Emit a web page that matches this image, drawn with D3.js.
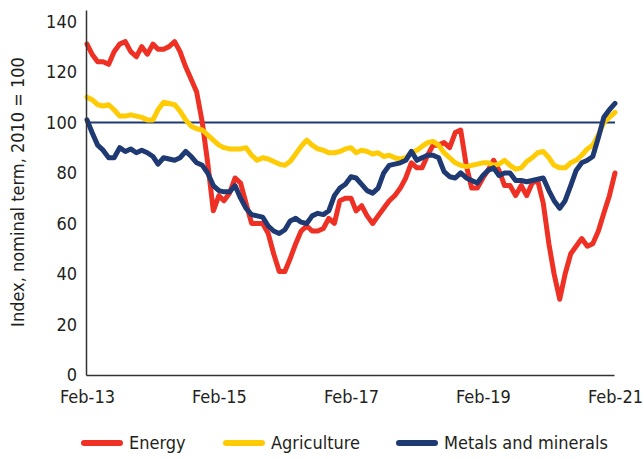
<!DOCTYPE html>
<html>
<head>
<meta charset="utf-8">
<script src="https://cdn.jsdelivr.net/npm/d3@7"></script>
<style>
  body { margin: 0; background: #fff; }
  text { font-family: "DejaVu Sans Condensed", "Liberation Sans Narrow", sans-serif; fill: #231f20; }
</style>
</head>
<body>
<div id="viz"></div>
<script>
// monthly index values, Feb-2013 .. Feb-2021 (2010 = 100)
var energy = [131,127,124,124,123,128,131,132,128,126,130,127,131,129,129,130,132,128,122,117,
  112,100,84,65,71,69,72,78,76,68,60,60,60,56,48,41,41,46,52,57,
  59,57,57,58,62,60,69,70,70,65,67,63,60,63,66,69,71,74,78,84,
  82,82,87,91,91,92,90,96,97,83,74,74,78,81,85,81,75,75,71,75,
  71,76,77,68,52,40,30,40,48,51,54,51,52,57,64,71,80];
var agriculture = [110,109,107,106.5,107,105,102.5,102.5,103,102.5,102,101,101,105,108,107.5,107,104.5,101,98.5,
  97.5,97,95,93,91,90,89.5,89.5,89.5,90,87,85,86,85.5,84.5,83.5,83,84.5,87.5,90.5,
  93,91,89.5,89,88,88,88.5,89.5,90,88,89,88.5,87.5,88,86.5,87,86,85.5,86,88,
  89,90.5,92,92.5,91,88,86,84,83,82.5,83,83.5,84,84,83,83.5,85,83,81.5,82,
  84.5,86,88,88.5,86,83,82,82,84,85,87,89.5,91,95,100,102,104];
var metals = [101,96,91,89,86,86,90,88.5,89.5,88,89,88,86.5,83.5,86,85.5,85,86,88.5,86.5,
  84,83,80,75,73,72.5,72.5,75,70,66,63.5,63,62.5,59,57,56,57.5,61,62,60.5,
  60,63,64,63.5,65,71,74,75.5,78.5,78,75.5,73,72,74,80,83,83.5,84,85,88.5,
  85,86,87,87,86,80.5,78.5,78,80,78,77,76,79,81,82,79,80,80,77,77,
  76.5,77,77.5,78,73,69,66,69,75,81,84,85,86.5,94,102,105,107.5];

var seriesNames = ["Energy", "Agriculture", "Metals and minerals"];
var seriesColors = ["#ee3124", "#ffcb05", "#1f3a73"];
var xTickLabels = ["Feb-13", "Feb-15", "Feb-17", "Feb-19", "Feb-21"];
var yTicks = [0, 20, 40, 60, 80, 100, 120, 140];
var yLabel = "Index, nominal term, 2010 = 100";

var months = energy.map(function(d, i) { return new Date(2013, 1 + i, 1); });
var series = [energy, agriculture, metals].map(function(vals, k) {
  return {
    name: seriesNames[k],
    color: seriesColors[k],
    values: vals.map(function(v, i) { return { date: months[i], value: v }; })
  };
});

var W = 644, H = 459;
var margin = {top: 10, right: 29, bottom: 84, left: 87},
    width = W - margin.left - margin.right,
    height = H - margin.top - margin.bottom;

var svg = d3.select("#viz").append("svg")
  .attr("width", W)
  .attr("height", H);

var g = svg.append("g")
  .attr("transform", "translate(" + margin.left + "," + margin.top + ")");

var x = d3.scaleTime()
  .domain(d3.extent(months))
  .range([0, width]);

var y = d3.scaleLinear()
  .domain([0, 144.5])
  .range([height, 0]);

var parseTick = d3.timeParse("%b-%y");

// reference line at 100
g.append("line")
  .attr("x1", 0).attr("x2", width)
  .attr("y1", y(100)).attr("y2", y(100))
  .attr("stroke", "#1f3a73")
  .attr("stroke-width", 2);

var line = d3.line()
  .x(function(d) { return x(d.date); })
  .y(function(d) { return y(d.value); });

series.forEach(function(s) {
  g.append("path").datum(s.values)
    .attr("fill", "none")
    .attr("stroke", s.color)
    .attr("stroke-width", 5)
    .attr("stroke-linejoin", "round")
    .attr("stroke-linecap", "round")
    .attr("d", line);
});

// axes
var xAxis = g.append("g")
  .attr("transform", "translate(0," + height + ")")
  .call(d3.axisBottom(x)
    .tickValues(xTickLabels.map(parseTick))
    .tickFormat(d3.timeFormat("%b-%y"))
    .tickSize(0).tickSizeOuter(0).tickPadding(15));
xAxis.select(".domain").attr("stroke", "#333").attr("stroke-width", 1.5).attr("transform", "translate(-1,0)");
xAxis.selectAll("text").style("font-size", "18px");

var yAxis = g.append("g")
  .call(d3.axisLeft(y)
    .tickValues(yTicks)
    .tickSize(0).tickSizeOuter(0).tickPadding(10));
yAxis.select(".domain").attr("stroke", "#333").attr("stroke-width", 1.5).attr("transform", "translate(-1,0)");
yAxis.selectAll("text").style("font-size", "18px");

svg.append("text")
  .attr("transform", "translate(24," + 192 + ") rotate(-90)")
  .attr("text-anchor", "middle")
  .style("font-size", "18px")
  .text(yLabel);

// legend
var legendX = [84, 226, 399];
var legend = svg.append("g").attr("transform", "translate(0,443)");
series.forEach(function(s, k) {
  legend.append("line")
    .attr("x1", legendX[k]).attr("x2", legendX[k] + 36)
    .attr("y1", 0).attr("y2", 0)
    .attr("stroke", s.color)
    .attr("stroke-width", 6)
    .attr("stroke-linecap", "round");
  legend.append("text")
    .attr("x", legendX[k] + 45)
    .attr("y", 6)
    .style("font-size", "18px")
    .text(s.name);
});
</script>
</body>
</html>
